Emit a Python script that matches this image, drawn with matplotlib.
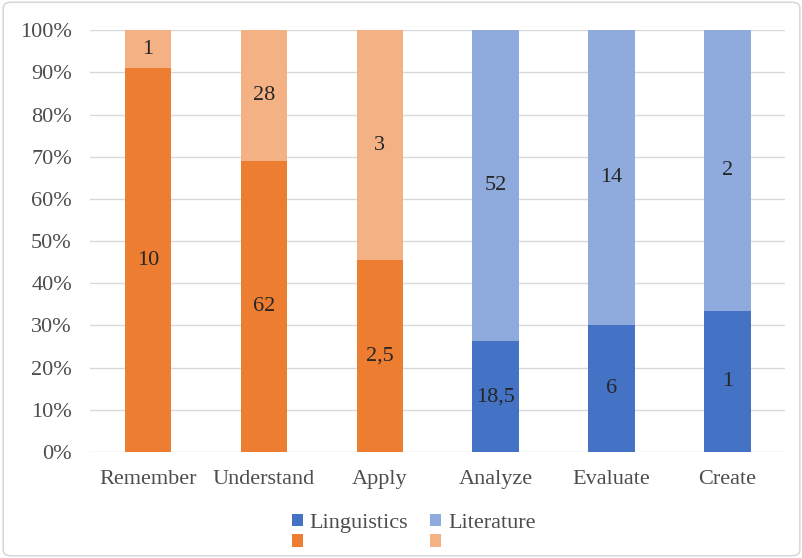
import matplotlib

matplotlib.use("Agg")
import matplotlib.pyplot as plt
from matplotlib.patches import FancyBboxPatch
from matplotlib.ticker import PercentFormatter
import numpy as np

plt.rcParams["font.family"] = ["Liberation Serif", "DejaVu Serif"]

# ── Data ──────────────────────────────────────────────────────────────
levels = ["Remember", "Understand", "Apply", "Analyze", "Evaluate", "Create"]
linguistics = [0, 0, 0, 18.5, 6, 1]
literature = [0, 0, 0, 52, 14, 2]
lower_unnamed = [10, 62, 2.5, 0, 0, 0]
upper_unnamed = [1, 28, 3, 0, 0, 0]

series = [
    ("Linguistics", linguistics, "#4472C4"),
    ("Literature", literature, "#8FAADC"),
    (" ", lower_unnamed, "#ED7D31"),
    ("  ", upper_unnamed, "#F4B183"),
]

totals = np.sum([s[1] for s in series], axis=0)

fig = plt.figure(figsize=(8.03, 5.58), dpi=100)
ax = fig.add_axes([0.112, 0.19, 0.866, 0.756])

# Rounded frame around the whole chart
fig.patches.append(
    FancyBboxPatch(
        (0.004, 0.004), 0.992, 0.992,
        boxstyle="round,pad=0,rounding_size=0.01",
        transform=fig.transFigure,
        facecolor="none", edgecolor="#D9D9D9", linewidth=1.2,
    )
)

x = np.arange(len(levels))
bottom = np.zeros(len(levels))
handles = {}
for name, vals, color in series:
    vals = np.array(vals, dtype=float)
    share = vals / totals * 100
    bars = ax.bar(x, share, 0.4, bottom=bottom, color=color, zorder=2)
    handles[name] = bars
    for xi, v, s, b in zip(x, vals, share, bottom):
        if v == 0:
            continue
        text = f"{v:g}".replace(".", ",")
        ax.text(xi, b + s / 2, text, ha="center", va="center",
                fontsize=16, color="#262626", zorder=3)
    bottom += share

ax.set_xlim(-0.5, 5.5)
ax.set_ylim(0, 100)
ax.set_yticks(np.arange(0, 101, 10))
ax.yaxis.set_major_formatter(PercentFormatter(decimals=0))
ax.set_xticks(x)
ax.set_xticklabels(levels)
ax.tick_params(axis="both", length=0, labelsize=16, colors="#4d4d4d")
ax.tick_params(axis="x", pad=13)
ax.tick_params(axis="y", pad=13)
ax.grid(axis="y", color="#D9D9D9", linewidth=1, zorder=0)
for sp in ax.spines.values():
    sp.set_visible(False)

order = ["Linguistics", " ", "Literature", "  "]
leg = fig.legend(
    [handles[k] for k in order], order,
    loc="center", bbox_to_anchor=(0.515, 0.044), ncol=2,
    frameon=False, fontsize=16, handlelength=0.5, handleheight=0.5,
    handletextpad=0.3, columnspacing=1.0, labelspacing=0.05,
)
for t in leg.get_texts():
    t.set_color("#4d4d4d")

fig.savefig("out.png", dpi=100)
plt.close(fig)
